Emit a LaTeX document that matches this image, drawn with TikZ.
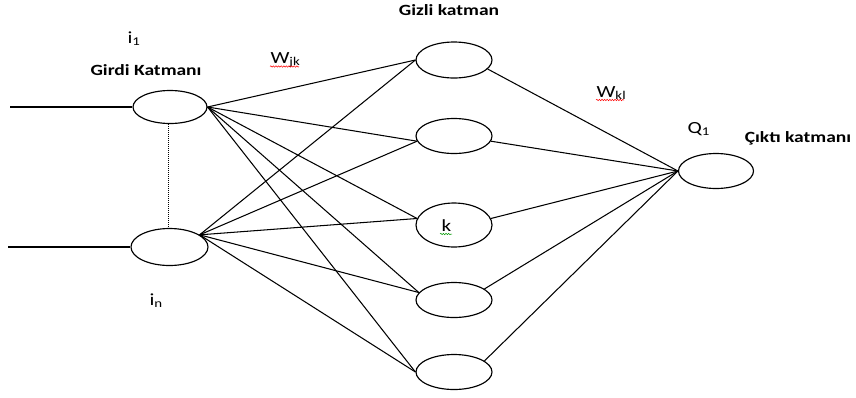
\documentclass[tikz,border=0pt]{standalone}
\usepackage{fontspec}
\setmainfont{Carlito}[FakeStretch=1.25]
\usetikzlibrary{shapes.geometric,decorations.pathmorphing}
\begin{document}
\begin{tikzpicture}[x=1pt,y=-1pt, line width=1.15pt,
  neuron/.style={draw, ellipse, inner sep=0pt, minimum width=76pt, minimum height=35pt},
  conn/.style={line width=1.05pt},
  title/.style={font=\fontsize{15.6}{18}\selectfont\bfseries, inner sep=0pt, anchor=base},
  lbl/.style={font=\fontsize{17}{20}\selectfont, inner sep=0pt, anchor=base west},
  squig/.style={decorate, decoration={snake, amplitude=0.7pt, segment length=2.6pt}, line width=0.5pt}]
\useasboundingbox (0,0) rectangle (856,397);
% neurons
\node[neuron, minimum width=74pt, minimum height=33pt] (i1) at (170,107) {};
\node[neuron, minimum width=77pt, minimum height=37pt] (i2) at (169.5,247) {};
\node[neuron, minimum height=36pt] (h1) at (454,60) {};
\node[neuron] (h2) at (454,136) {};
\node[neuron, minimum height=44pt] (h3) at (454,225) {};
\node[neuron] (h4) at (454,300) {};
\node[neuron] (h5) at (454,372) {};
\node[neuron, minimum width=75pt, minimum height=35pt] (o) at (716,171) {};
% inputs
\coordinate (in1) at (10,107);
\coordinate (in2) at (8,247);
\draw[conn] (in1) -- (i1.west);
\draw[conn] (in2) -- (i2.west);
\draw[densely dotted, line width=1pt] ([xshift=-2pt]i1.south) -- ([xshift=-1.5pt]i2.north);
% input -> hidden
\coordinate (s1) at (i1.east);
\coordinate (s2) at (i2.22);
\draw[conn] (s1) -- (h1.west);
\draw[conn] (s1) -- (h2.188);
\draw[conn] (s1) -- (h3.170);
\draw[conn] (s1) -- (h4.168);
\draw[conn] (s1) -- (h5.west);
\draw[conn] (s2) -- (h1.west);
\draw[conn] (s2) -- (h2.188);
\draw[conn] (s2) -- (h3.170);
\draw[conn] (s2) -- (h4.168);
\draw[conn] (s2) -- (h5.west);
% hidden -> output
\draw[conn] (h1.-15) -- (o.west);
\draw[conn] (h2.-8) -- (o.west);
\draw[conn] (h3.10) -- (o.west);
\draw[conn] (h4.20) -- (o.west);
\draw[conn] (h5.20) -- (o.west);
% labels
\node[lbl] (li1) at (127,43) {i\textsubscript{1}};
\node[lbl] (lin) at (149,305) {i\textsubscript{n}};
\node[lbl] (wjk) at (270,63) {W\textsubscript{jk}};
\node[lbl] (wkl) at (596,97) {W\textsubscript{kl}};
\node[lbl] (q1) at (687,133) {Q\textsubscript{1}};
\node[lbl] (kl) at (441,231) {k};
\node[title] (tg) at (146,75) {Girdi Katmanı};
\node[title] (th) at (449,15) {Gizli katman};
\node[title] (to) at (798,142) {Çıktı katmanı};
% spell-check squiggles
\draw[squig, red] (270,66.5) -- (299,66.5);
\draw[squig, red] (596,100) -- (624,100);
\draw[squig, green!60!black] (440,234) -- (452,234);
\end{tikzpicture}
\end{document}
